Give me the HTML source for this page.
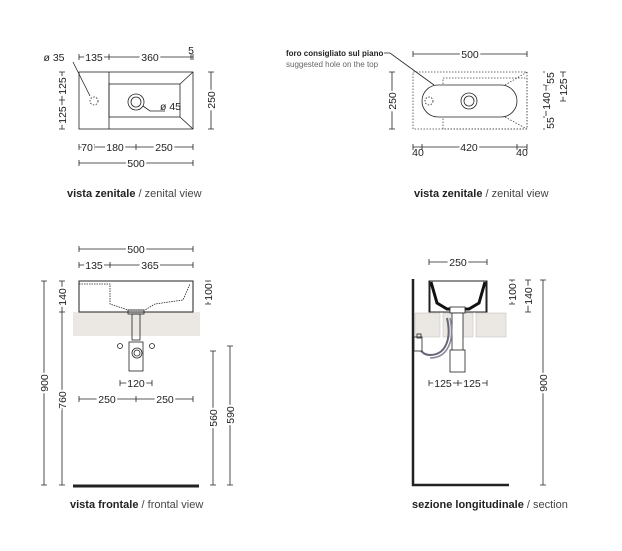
<!DOCTYPE html>
<html><head><meta charset="utf-8"><style>
html,body{margin:0;padding:0;background:#fff;}
svg{display:block;}
text{font-family:"Liberation Sans","DejaVu Sans",sans-serif;fill:#222;}
.d{font-size:10.5px;}
.c{font-size:11px;}
</style></head><body>
<svg width="622" height="551" viewBox="0 0 622 551" xmlns="http://www.w3.org/2000/svg">
<g stroke="#222" stroke-width="0.8" fill="none">
<rect x="79" y="72" width="114" height="57"/>
<rect x="109" y="84" width="71" height="33"/>
<line x1="109" y1="72" x2="109" y2="129"/>
<line x1="180" y1="84" x2="193" y2="72"/><line x1="180" y1="117" x2="193" y2="129"/>
<circle cx="136" cy="102" r="8"/><circle cx="136" cy="102" r="5"/>
<circle cx="94" cy="101" r="4" stroke-dasharray="1.5,1.5"/>
<line x1="73" y1="62" x2="90" y2="96"/>
<polyline points="143,106 150,111 165,111"/>
<line x1="79" y1="57" x2="193" y2="57"/>
<path d="M79,54v6M109,54v6M191,54v6M193,54v6"/>
<line x1="62" y1="72" x2="62" y2="129"/><path d="M59,72h6M59,100h6M59,129h6"/>
<line x1="211" y1="72" x2="211" y2="129"/><path d="M208,72h6M208,129h6"/>
<line x1="79" y1="147" x2="193" y2="147"/><path d="M79,144v6M94,144v6M136,144v6M193,144v6"/>
<line x1="79" y1="163" x2="193" y2="163"/><path d="M79,160v6M193,160v6"/>

<g stroke-dasharray="1.5,1.5" stroke="#444">
<rect x="413" y="72" width="114" height="57"/>
<rect x="443" y="78" width="84" height="51"/>
<line x1="505" y1="85" x2="527" y2="72"/><line x1="505" y1="117" x2="527" y2="129"/>
</g>
<rect x="422" y="85" width="95" height="32" rx="16" fill="#fff"/>
<circle cx="469" cy="101" r="8"/><circle cx="469" cy="101" r="5"/>
<circle cx="429" cy="101" r="4" stroke-dasharray="1.5,1.5"/>
<polyline points="384,53 390,53 434,85"/>
<line x1="413" y1="54" x2="527" y2="54"/><path d="M413,51v6M527,51v6"/>
<line x1="392" y1="72" x2="392" y2="129"/><path d="M389,72h6M389,129h6"/>
<line x1="546" y1="72" x2="546" y2="129"/><path d="M543,72h6M543,85h6M543,117h6M543,129h6"/>
<line x1="563" y1="72" x2="563" y2="101"/><path d="M560,72h6M560,101h6"/>
<line x1="413" y1="147" x2="527" y2="147"/><path d="M413,144v6M422,144v6M517,144v6M527,144v6"/>

<rect x="73" y="312" width="127" height="24" fill="#ebe7e3" stroke="none"/>
<rect x="79" y="281" width="114" height="31" stroke-width="1"/>
<polyline points="79,284 110,284 110,304 128,310 145,310 155,304 183,300 190,284" stroke-dasharray="1.5,1" />
<rect x="128" y="310" width="16" height="4"/>
<rect x="132" y="314" width="8" height="26"/>
<rect x="129" y="342" width="14" height="29"/>
<circle cx="137" cy="353" r="5"/><circle cx="137" cy="353" r="3"/>
<circle cx="120" cy="346" r="2.5"/><circle cx="152" cy="346" r="2.5"/>
<line x1="79" y1="249" x2="193" y2="249"/><path d="M79,246v6M193,246v6"/>
<line x1="79" y1="265" x2="193" y2="265"/><path d="M79,262v6M110,262v6M193,262v6"/>
<line x1="44" y1="281" x2="44" y2="485"/><path d="M41,281h6M41,485h6"/>
<line x1="62" y1="281" x2="62" y2="485"/><path d="M59,281h6M59,312h6M59,485h6"/>
<line x1="208" y1="281" x2="208" y2="304"/><path d="M205,281h6M205,304h6"/>
<line x1="120" y1="383" x2="152" y2="383"/><path d="M120,380v6M152,380v6"/>
<line x1="79" y1="399" x2="193" y2="399"/><path d="M79,396v6M136,396v6M193,396v6"/>
<line x1="213" y1="351" x2="213" y2="485"/><path d="M210,351h6M210,485h6"/>
<line x1="230" y1="346" x2="230" y2="485"/><path d="M227,346h6M227,485h6"/>
<line x1="73" y1="486" x2="199" y2="486" stroke-width="3"/>

<rect x="415" y="313" width="25" height="24" fill="#ebe7e3" stroke="#bbb" stroke-width="0.5"/>
<rect x="443" y="313" width="30" height="24" fill="#ebe7e3" stroke="#bbb" stroke-width="0.5"/>
<rect x="476" y="313" width="30" height="24" fill="#ebe7e3" stroke="#bbb" stroke-width="0.5"/>
<line x1="413" y1="279" x2="413" y2="486" stroke-width="2.5"/>
<line x1="412" y1="485" x2="509" y2="485" stroke-width="2.5"/>
<path d="M429,281h58v31h-58z" stroke-width="1"/>
<path d="M431,282 L437,303 L447,309 L469,309 L479,303 L485,282" stroke-width="3" stroke="#111"/>
<path d="M429.5,312 V281 M486.5,312 V281" stroke-width="2"/>
<rect x="450" y="307" width="15" height="6" fill="#fff"/>
<rect x="452" y="313" width="11" height="38" fill="#fff"/>
<rect x="450" y="350" width="15" height="22" fill="#fff"/>
<path d="M447,318 C452,340 445,355 430,355 C420,355 418,345 418,340" stroke="#667" stroke-width="2"/>
<path d="M450,318 C455,340 448,358 430,358" stroke="#889" stroke-width="1.5"/>
<rect x="414" y="337" width="8" height="14" fill="#fff"/>
<rect x="417" y="334" width="4" height="4"/>
<line x1="429" y1="262" x2="487" y2="262"/><path d="M429,259v6M487,259v6"/>
<line x1="512" y1="280" x2="512" y2="304"/><path d="M509,280h6M509,304h6"/>
<line x1="528" y1="280" x2="528" y2="312"/><path d="M525,280h6M525,312h6"/>
<line x1="543" y1="280" x2="543" y2="485"/><path d="M540,280h6M540,485h6"/>
<line x1="429" y1="383" x2="487" y2="383"/><path d="M429,380v6M458,380v6M487,380v6"/>
</g>

<g class="d" text-anchor="middle">
<text x="54" y="61">ø 35</text>
<text x="94" y="61" style="paint-order:stroke" stroke="#fff" stroke-width="4">135</text>
<text x="150" y="61" style="paint-order:stroke" stroke="#fff" stroke-width="4">360</text>
<text x="191" y="54">5</text>
<text x="160" y="110" text-anchor="start">ø 45</text>
<text x="87" y="151" style="paint-order:stroke" stroke="#fff" stroke-width="4">70</text>
<text x="115" y="151" style="paint-order:stroke" stroke="#fff" stroke-width="4">180</text>
<text x="164" y="151" style="paint-order:stroke" stroke="#fff" stroke-width="4">250</text>
<text x="136" y="167" style="paint-order:stroke" stroke="#fff" stroke-width="4">500</text>
<text transform="translate(66,86) rotate(-90)" style="paint-order:stroke" stroke="#fff" stroke-width="4">125</text>
<text transform="translate(66,115) rotate(-90)" style="paint-order:stroke" stroke="#fff" stroke-width="4">125</text>
<text transform="translate(215,100) rotate(-90)" style="paint-order:stroke" stroke="#fff" stroke-width="4">250</text>

<text x="470" y="58" style="paint-order:stroke" stroke="#fff" stroke-width="4">500</text>
<text transform="translate(396,101) rotate(-90)" style="paint-order:stroke" stroke="#fff" stroke-width="4">250</text>
<text transform="translate(554,78) rotate(-90)" style="paint-order:stroke" stroke="#fff" stroke-width="4">55</text>
<text transform="translate(550,101) rotate(-90)" style="paint-order:stroke" stroke="#fff" stroke-width="4">140</text>
<text transform="translate(554,123) rotate(-90)" style="paint-order:stroke" stroke="#fff" stroke-width="4">55</text>
<text transform="translate(567,87) rotate(-90)" style="paint-order:stroke" stroke="#fff" stroke-width="4">125</text>
<text x="418" y="156">40</text>
<text x="469" y="151" style="paint-order:stroke" stroke="#fff" stroke-width="4">420</text>
<text x="522" y="156">40</text>

<text x="136" y="253" style="paint-order:stroke" stroke="#fff" stroke-width="4">500</text>
<text x="94" y="269" style="paint-order:stroke" stroke="#fff" stroke-width="4">135</text>
<text x="150" y="269" style="paint-order:stroke" stroke="#fff" stroke-width="4">365</text>
<text transform="translate(48,383) rotate(-90)" style="paint-order:stroke" stroke="#fff" stroke-width="4">900</text>
<text transform="translate(66,297) rotate(-90)" style="paint-order:stroke" stroke="#fff" stroke-width="4">140</text>
<text transform="translate(66,400) rotate(-90)" style="paint-order:stroke" stroke="#fff" stroke-width="4">760</text>
<text transform="translate(212,292) rotate(-90)" style="paint-order:stroke" stroke="#fff" stroke-width="4">100</text>
<text x="136" y="387" style="paint-order:stroke" stroke="#fff" stroke-width="4">120</text>
<text x="107" y="403" style="paint-order:stroke" stroke="#fff" stroke-width="4">250</text>
<text x="165" y="403" style="paint-order:stroke" stroke="#fff" stroke-width="4">250</text>
<text transform="translate(217,418) rotate(-90)" style="paint-order:stroke" stroke="#fff" stroke-width="4">560</text>
<text transform="translate(234,415) rotate(-90)" style="paint-order:stroke" stroke="#fff" stroke-width="4">590</text>

<text x="458" y="266" style="paint-order:stroke" stroke="#fff" stroke-width="4">250</text>
<text transform="translate(516,292) rotate(-90)" style="paint-order:stroke" stroke="#fff" stroke-width="4">100</text>
<text transform="translate(532,296) rotate(-90)" style="paint-order:stroke" stroke="#fff" stroke-width="4">140</text>
<text transform="translate(547,383) rotate(-90)" style="paint-order:stroke" stroke="#fff" stroke-width="4">900</text>
<text x="443" y="387" style="paint-order:stroke" stroke="#fff" stroke-width="4">125</text>
<text x="472" y="387" style="paint-order:stroke" stroke="#fff" stroke-width="4">125</text>
</g>

<text x="286" y="56" font-size="8" font-weight="bold">foro consigliato sul piano</text>
<text x="286" y="67" font-size="8" style="fill:#666">suggested hole on the top</text>

<text x="67" y="197" class="c"><tspan font-weight="bold">vista zenitale</tspan><tspan style="fill:#444"> / zenital view</tspan></text>
<text x="414" y="197" class="c"><tspan font-weight="bold">vista zenitale</tspan><tspan style="fill:#444"> / zenital view</tspan></text>
<text x="70" y="508" class="c"><tspan font-weight="bold">vista frontale</tspan><tspan style="fill:#444"> / frontal view</tspan></text>
<text x="412" y="508" class="c"><tspan font-weight="bold">sezione longitudinale</tspan><tspan style="fill:#444"> / section</tspan></text>
</svg>
</body></html>
